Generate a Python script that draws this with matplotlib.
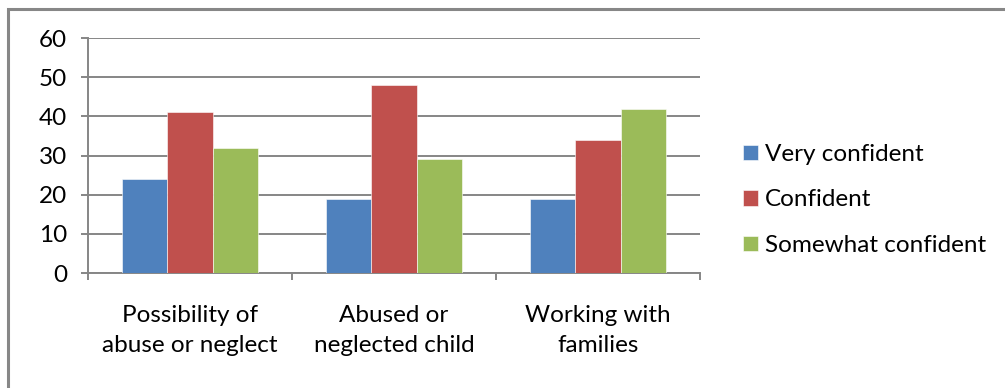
#!/usr/bin/env python3

import numpy as np
import matplotlib
matplotlib.use('Agg')
import matplotlib.pyplot as plt
from matplotlib.patches import Rectangle

# Chart data
categories = ['Possibility of\nabuse or neglect', 'Abused or\nneglected child', 'Working with\nfamilies']
series_names = ['Very confident', 'Confident', 'Somewhat confident']
very_confident = [24, 19, 19]
confident = [41, 48, 34]
somewhat_confident = [32, 29, 42]
y_ticks = [0, 10, 20, 30, 40, 50, 60]

colors = ['#4F81BD', '#C0504D', '#9BBB59']
grid_color = '#868686'

plt.rcParams['font.family'] = ['Lato', 'DejaVu Sans']


def main():
    W, H = 1005, 388
    fig = plt.figure(figsize=(W / 100, H / 100), dpi=100)

    # Outer chart frame (clipped at right and bottom like the source)
    fig.patches.append(Rectangle((8 / W, -0.1), 1.2, 1 - 9 / H + 0.1,
                                 transform=fig.transFigure, fill=False,
                                 edgecolor='#878787', linewidth=2.2))

    ax = fig.add_axes([88 / W, (H - 273) / H, (700 - 88) / W, (273 - 38) / H])

    x = np.arange(len(categories))
    width = 1 / 4.5
    series = [very_confident, confident, somewhat_confident]
    for i, (vals, name, col) in enumerate(zip(series, series_names, colors)):
        ax.bar(x + (i - 1) * width, vals, width, color=col, label=name,
               edgecolor='white', linewidth=0.4, zorder=3)

    ax.set_xlim(-0.5, len(categories) - 0.5)
    ax.set_ylim(0, 60)
    ax.set_yticks(y_ticks)
    ax.yaxis.grid(True, color=grid_color, linewidth=1.4, zorder=0)

    for side in ['top', 'right']:
        ax.spines[side].set_visible(False)
    for side in ['left', 'bottom']:
        ax.spines[side].set_color(grid_color)
        ax.spines[side].set_linewidth(1.4)

    ax.tick_params(axis='y', length=5, width=1.4, color=grid_color, pad=10,
                   labelsize=17.5)
    ax.set_xticks(x)
    ax.set_xticklabels(categories, fontsize=17.5, linespacing=1.55)
    ax.set_xticks(np.arange(len(categories) + 1) - 0.5, minor=True)
    ax.tick_params(axis='x', which='major', length=0, pad=23)
    ax.tick_params(axis='x', which='minor', length=5, width=1.4,
                   color=grid_color)

    fig.legend(loc='center left', bbox_to_anchor=(743 / W, 1 - 200 / H),
               frameon=False, fontsize=17.5, borderpad=0, borderaxespad=0,
               handlelength=0.6, handleheight=0.6, handletextpad=0.3,
               labelspacing=1.0)

    fig.savefig('out.png', dpi=100)


if __name__ == '__main__':
    main()
